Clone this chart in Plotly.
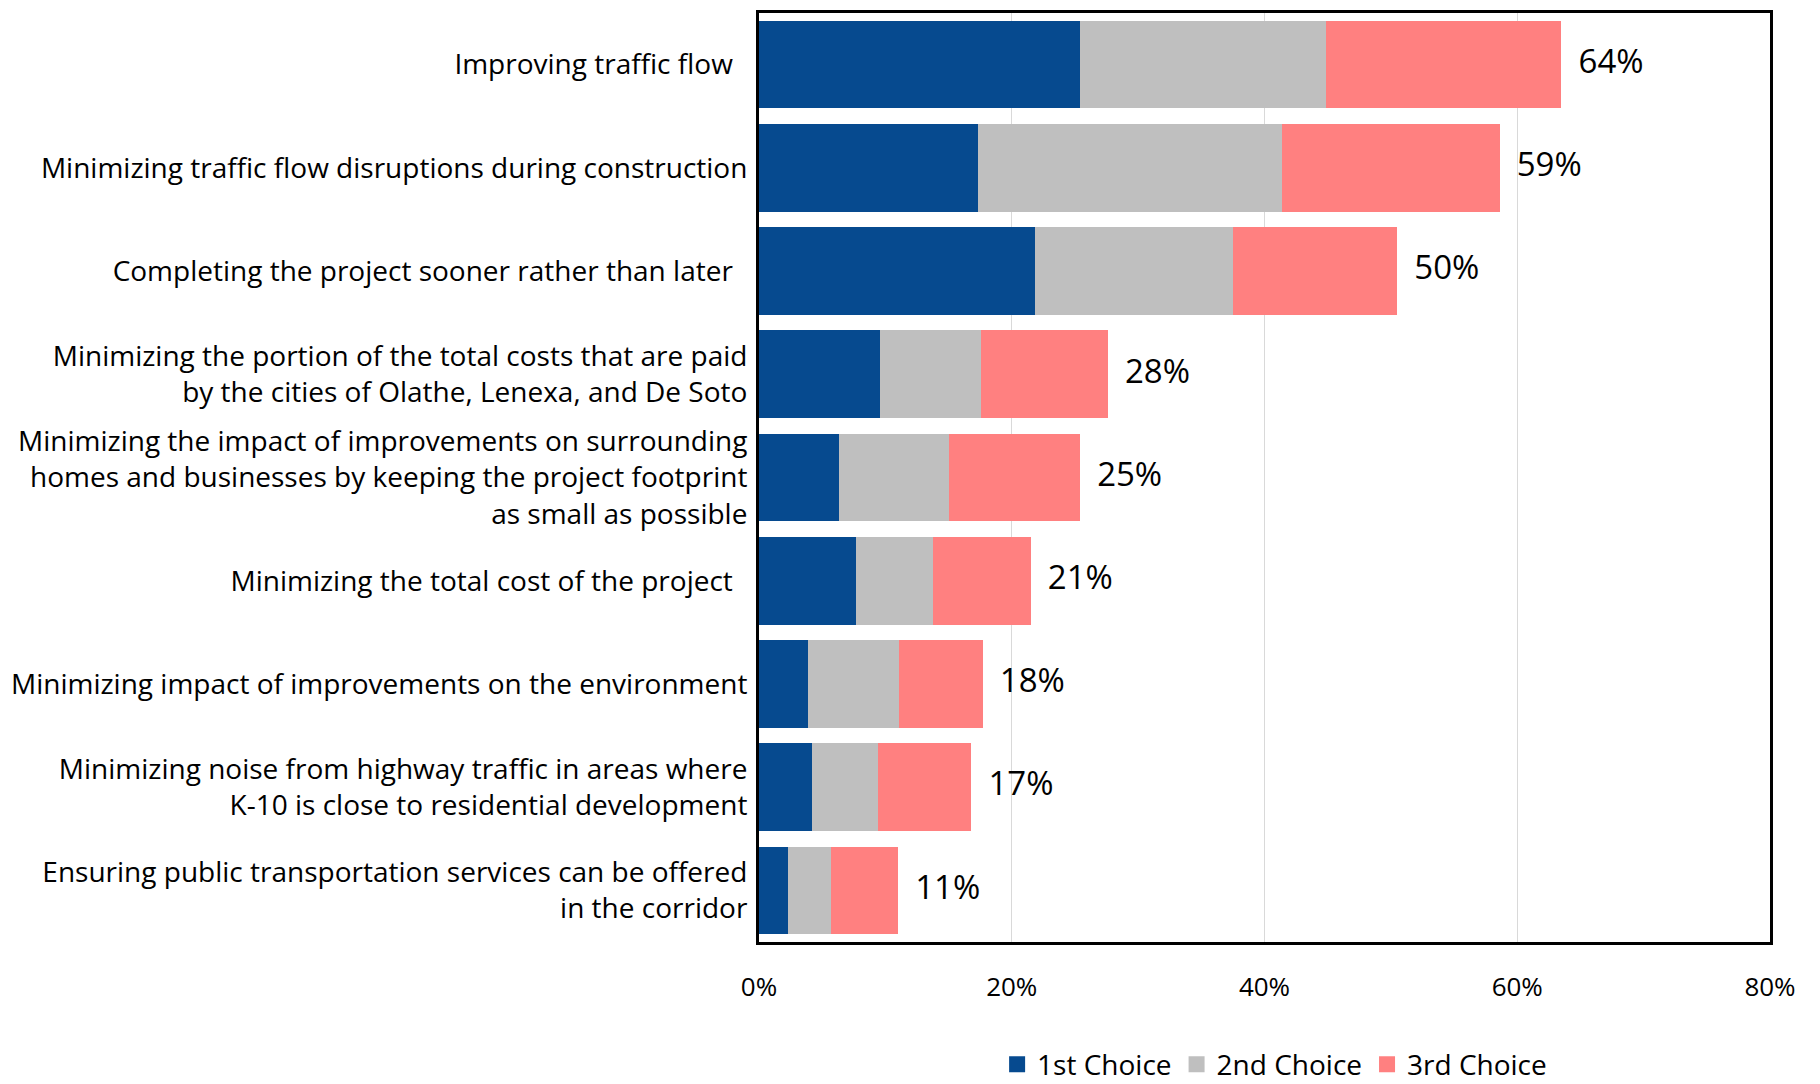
import plotly.graph_objects as go

categories = [
    "Improving traffic flow\u00a0\u00a0",
    "Minimizing traffic flow disruptions during construction",
    "Completing the project sooner rather than later\u00a0\u00a0",
    "Minimizing the portion of the total costs that are paid<br>by the cities of Olathe, Lenexa, and De Soto",
    "Minimizing the impact of improvements on surrounding<br>homes and businesses by keeping the project footprint<br>as small as possible",
    "Minimizing the total cost of the project\u00a0\u00a0",
    "Minimizing impact of improvements on the environment",
    "Minimizing noise from highway traffic in areas where<br>K-10 is close to residential development",
    "Ensuring public transportation services can be offered<br>in the corridor",
]

# shares (%)
first = [25.4, 17.3, 21.8, 9.6, 6.3, 7.7, 3.9, 4.2, 2.3]
second = [19.5, 24.1, 15.7, 8.0, 8.7, 6.1, 7.2, 5.2, 3.4]
third = [18.6, 17.2, 13.0, 10.0, 10.4, 7.7, 6.6, 7.4, 5.3]
total_labels = ["64%", "59%", "50%", "28%", "25%", "21%", "18%", "17%", "11%"]

series = [
    ("1st Choice", first, "#064A8F"),
    ("2nd Choice", second, "#BFBFBF"),
    ("3rd Choice", third, "#FF8080"),
]

font = "Open Sans"

fig = go.Figure()
for name, vals, color in series:
    fig.add_trace(go.Bar(
        y=categories, x=[v / 100 for v in vals], name=name,
        orientation="h", marker_color=color, marker_line_width=0,
        showlegend=False,
    ))

# legend-only entries with bigger square swatches
for name, vals, color in series:
    fig.add_trace(go.Scatter(
        x=[None], y=[None], mode="markers", name=name,
        marker=dict(symbol="square", size=16, color=color),
    ))

totals = [(a + b + c) / 100 for a, b, c in zip(first, second, third)]
fig.add_trace(go.Scatter(
    y=categories, x=totals, mode="text", text=["  " + t for t in total_labels],
    textposition="middle right", textfont=dict(family=font, size=33, color="black"),
    showlegend=False, hoverinfo="skip",
))

fig.update_layout(
    barmode="stack",
    bargap=0.15,
    width=1820, height=1084,
    margin=dict(l=751, r=58, t=2, b=145),
    plot_bgcolor="white", paper_bgcolor="white",
    font=dict(family=font, size=26, color="black"),
    legend=dict(
        orientation="h", x=0.51, xanchor="center", y=-0.132, yanchor="middle",
        font=dict(size=28), traceorder="normal", itemwidth=30,
        itemsizing="trace",
    ),
)
fig.update_xaxes(
    range=[0, 0.8], tickvals=[0, 0.2, 0.4, 0.6, 0.8], tickformat=".0%",
    showgrid=True, gridcolor="#D9D9D9", gridwidth=1,
    showline=True, linecolor="black", linewidth=3, mirror=True,
    zeroline=False, ticks="", ticklabelstandoff=20,
    tickfont=dict(size=26),
)
fig.update_yaxes(
    autorange="reversed", showline=True, linecolor="black", linewidth=3,
    mirror=True, ticks="", ticklabelstandoff=3, tickfont=dict(size=28),
)

fig.write_html("out.html")
